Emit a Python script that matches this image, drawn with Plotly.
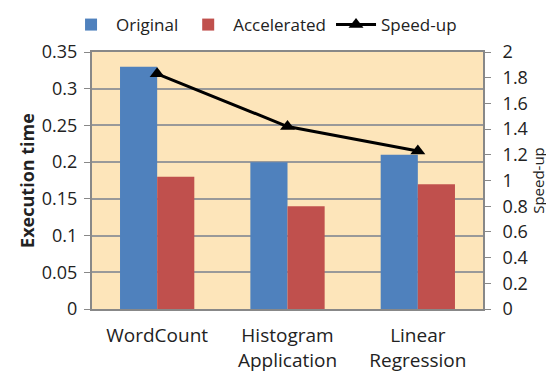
import plotly.graph_objects as go

categories = ["WordCount", "Histogram<br>Application", "Linear<br>Regression"]
original = [0.33, 0.20, 0.21]
accelerated = [0.18, 0.14, 0.17]
speedup = [1.83, 1.42, 1.23]

left_ticks = [0, 0.05, 0.1, 0.15, 0.2, 0.25, 0.3, 0.35]
left_labels = ["0", "0.05", "0.1", "0.15", "0.2", "0.25", "0.3", "0.35"]
right_ticks = [0, 0.2, 0.4, 0.6, 0.8, 1.0, 1.2, 1.4, 1.6, 1.8, 2.0]
right_labels = ["0", "0.2", "0.4", "0.6", "0.8", "1", "1.2", "1.4", "1.6", "1.8", "2"]

font_family = "Open Sans, DejaVu Sans, sans-serif"

fig = go.Figure()
fig.add_trace(go.Bar(x=categories, y=original, name="Original",
                     marker=dict(color="#4F81BD", line=dict(width=0))))
fig.add_trace(go.Bar(x=categories, y=accelerated, name="Accelerated",
                     marker=dict(color="#C0504D", line=dict(width=0))))
fig.add_trace(go.Scatter(x=categories, y=speedup, name="Speed-up", yaxis="y2",
                         mode="lines+markers",
                         line=dict(color="black", width=3),
                         marker=dict(symbol="triangle-up", size=13, color="black")))

fig.update_layout(
    width=546, height=370,
    margin=dict(l=84, r=71, t=44, b=69, autoexpand=False),
    paper_bgcolor="white",
    plot_bgcolor="#FDE5BA",
    font=dict(family=font_family, size=17, color="#222"),
    barmode="group", bargap=0.43, bargroupgap=0,
    showlegend=True,
    legend=dict(orientation="h", x=0.44, xanchor="center", y=1.175, yanchor="top",
                yref="paper", font=dict(size=17), itemwidth=40,
                traceorder="normal", bgcolor="rgba(0,0,0,0)"),
    xaxis=dict(showline=True, linecolor="#888", linewidth=2, mirror=True,
               ticks="", tickfont=dict(size=19), ticklabelstandoff=8),
    yaxis=dict(range=[0, 0.35], tickvals=left_ticks, ticktext=left_labels,
               showgrid=True, gridcolor="#999", gridwidth=1.5,
               showline=True, linecolor="#888", linewidth=2,
               ticks="outside", ticklen=6, tickcolor="#888",
               tickfont=dict(size=18), ticklabelstandoff=3,
               title=dict(text="<b>Execution time</b>", font=dict(size=18), standoff=2),
               zeroline=False),
    yaxis2=dict(range=[0, 2], tickvals=right_ticks, ticktext=right_labels,
                overlaying="y", side="right", showgrid=False,
                showline=True, linecolor="#888", linewidth=2,
                ticks="outside", ticklen=6, tickcolor="#888",
                tickfont=dict(size=18), ticklabelstandoff=8,
                title=dict(text="Speed-up", font=dict(size=15), standoff=6),
                zeroline=False),
)

fig.write_html("out.html")
